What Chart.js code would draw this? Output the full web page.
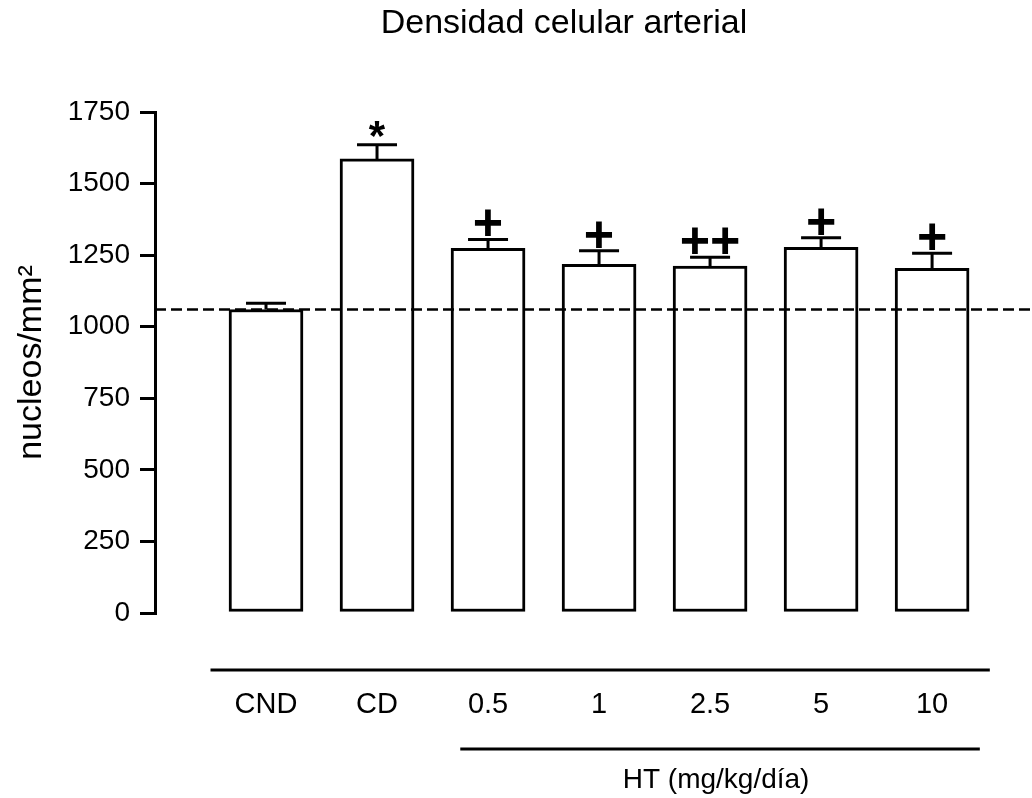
<!DOCTYPE html>
<html>
<head>
<meta charset="utf-8">
<script src="https://cdn.jsdelivr.net/npm/chart.js@4.4.1/dist/chart.umd.min.js"></script>
<style>
  html, body { margin: 0; padding: 0; background: #fff; }
  #wrap { width: 1032px; height: 798px; position: relative; }
</style>
</head>
<body>
<div id="wrap"><canvas id="chart"></canvas></div>
<script>
const categories = ['CND', 'CD', '0.5', '1', '2.5', '5', '10'];
const means = [1060, 1586, 1274, 1218, 1212, 1277, 1204];
const sems = [22, 50, 31, 47, 31, 34, 53];
const marks = ['', '*', '+', '+', '++', '+', '+'];
const yTicks = [0, 250, 500, 750, 1000, 1250, 1500, 1750];
const referenceLine = 1060;
const chartTitle = 'Densidad celular arterial';
const yTitle = 'nucleos/mm²';
const groupTitle = 'HT (mg/kg/día)';

const FONT = '"Liberation Sans", Arial, sans-serif';

// error bars, significance marks, dashed control line
const overlay = {
  id: 'overlay',
  afterDatasetsDraw(chart) {
    const { ctx, chartArea, scales: { x, y } } = chart;
    ctx.save();
    ctx.strokeStyle = '#000';
    ctx.fillStyle = '#000';
    ctx.lineWidth = 3;
    means.forEach((m, i) => {
      const cx = x.getPixelForValue(i);
      const top = y.getPixelForValue(m);
      const cap = y.getPixelForValue(m + sems[i]);
      ctx.beginPath();
      ctx.moveTo(cx, top);
      ctx.lineTo(cx, cap);
      ctx.moveTo(cx - 20, cap);
      ctx.lineTo(cx + 20, cap);
      ctx.stroke();

      const mark = marks[i];
      if (!mark) return;
      ctx.textAlign = 'center';
      ctx.textBaseline = 'alphabetic';
      if (mark === '*') {
        ctx.font = `bold 42px ${FONT}`;
        ctx.fillText(mark, cx, cap + 5);
      } else {
        ctx.font = `bold 52px ${FONT}`;
        ctx.fillText(mark, cx, cap + 1);
      }
    });

    const ry = y.getPixelForValue(referenceLine);
    ctx.setLineDash([11, 5]);
    ctx.lineWidth = 2.5;
    ctx.beginPath();
    ctx.moveTo(chartArea.left, ry);
    ctx.lineTo(chartArea.right, ry);
    ctx.stroke();
    ctx.restore();
  },
  afterDraw(chart) {
    const { ctx, scales: { x } } = chart;
    ctx.save();
    ctx.fillStyle = '#000';
    ctx.strokeStyle = '#000';
    ctx.textAlign = 'center';
    ctx.textBaseline = 'alphabetic';
    ctx.font = `34px ${FONT}`;
    ctx.fillText(chartTitle, 564, 33);

    ctx.lineWidth = 3;
    ctx.beginPath();
    ctx.moveTo(x.getPixelForValue(-0.5), 670);
    ctx.lineTo(x.getPixelForValue(6.52), 670);
    const g0 = x.getPixelForValue(1.75);
    const g1 = x.getPixelForValue(6.43);
    ctx.moveTo(g0, 749);
    ctx.lineTo(g1, 749);
    ctx.stroke();

    ctx.font = `28px ${FONT}`;
    ctx.fillText(groupTitle, (g0 + g1) / 2 - 4, 788);
    ctx.restore();
  }
};

new Chart(document.getElementById('chart'), {
  type: 'bar',
  data: {
    datasets: [{
      data: means.map((m, i) => ({ x: i, y: m })),
      backgroundColor: '#fff',
      borderColor: '#000',
      borderWidth: 3,
      borderSkipped: false,
      barThickness: 74,
    }],
  },
  options: {
    responsive: true,
    maintainAspectRatio: false,
    animation: false,
    layout: { padding: { top: 112, right: 0, left: 0, bottom: 0 } },
    plugins: {
      legend: { display: false },
      tooltip: { enabled: false },
      title: { display: false },
    },
    scales: {
      x: {
        type: 'linear',
        min: -1,
        max: 6.9,
        offset: false,
        grid: { display: false, drawTicks: true, tickLength: 75 },
        border: { display: false },
        afterFit: (s) => { s.height = 185; },
        ticks: {
          stepSize: 1,
          autoSkip: false,
          maxRotation: 0,
          padding: 0,
          color: '#000',
          font: { family: FONT, size: 29 },
          callback: (v) => (Number.isInteger(v) ? categories[v] ?? '' : ''),
        },
      },
      y: {
        min: 0,
        max: 1750,
        afterBuildTicks: (s) => { s.ticks = yTicks.map((v) => ({ value: v })); },
        afterFit: (s) => { s.width = 155; },
        grid: { drawOnChartArea: false, tickLength: 15, color: '#000', lineWidth: 3 },
        border: { display: true, color: '#000', width: 3 },
        ticks: {
          padding: 10,
          color: '#000',
          font: { family: FONT, size: 28 },
          callback: (v) => String(v),
        },
        title: {
          display: true,
          text: yTitle,
          color: '#000',
          padding: { top: 11, bottom: 0 },
          font: { family: FONT, size: 34 },
        },
      },
    },
  },
  plugins: [overlay],
});
</script>
</body>
</html>
